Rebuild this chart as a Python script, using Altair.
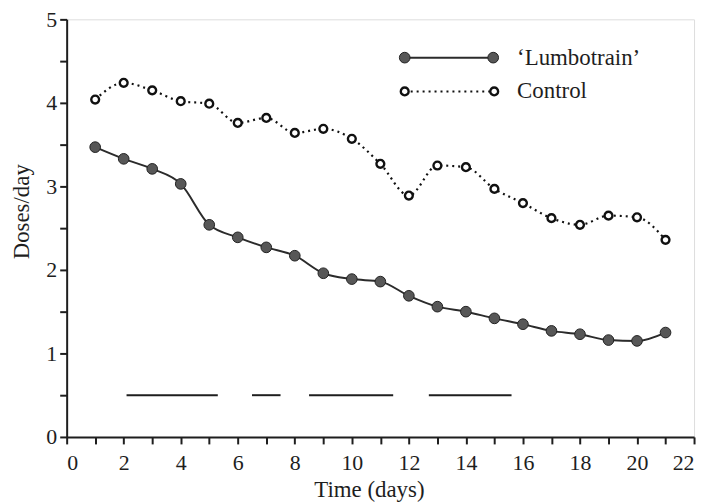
import altair as alt
import pandas as pd

# ---- data ----
days = list(range(1, 22))
lumbotrain = [3.47, 3.33, 3.21, 3.03, 2.54, 2.39, 2.27, 2.17, 1.96, 1.89, 1.86,
              1.69, 1.56, 1.50, 1.42, 1.35, 1.27, 1.23, 1.16, 1.15, 1.25]
control = [4.04, 4.24, 4.15, 4.02, 3.99, 3.76, 3.82, 3.64, 3.69, 3.57, 3.27,
           2.89, 3.25, 3.23, 2.97, 2.80, 2.62, 2.54, 2.65, 2.63, 2.36]
sig_start = [2.1, 6.5, 8.5, 12.7]
sig_end = [5.3, 7.5, 11.45, 15.6]
sig_level = [0.5, 0.5, 0.5, 0.5]
x_ticks = list(range(0, 23))
y_ticks = [i * 0.5 for i in range(11)]
legend_labels = ["\u2018Lumbotrain\u2019", "Control"]

FONT = "Liberation Serif"
INK = "#1e1e1e"

lum_df = pd.DataFrame({"day": days, "doses": lumbotrain})
con_df = pd.DataFrame({"day": days, "doses": control})
sig_df = pd.DataFrame({"start": sig_start, "end": sig_end, "level": sig_level})

xscale = alt.Scale(domain=[0, 22], nice=False, zero=False)
yscale = alt.Scale(domain=[0, 5], nice=False, zero=False)

xaxis = alt.Axis(values=x_ticks, format="d",
                 labelExpr="datum.value % 2 === 0 ? datum.label : ''",
                 title="Time (days)", grid=False, tickSize=7, tickWidth=2,
                 domainWidth=2, domainColor=INK, tickColor=INK, labelColor=INK,
                 labelFont=FONT, labelFontSize=22, labelPadding=9, labelAngle=0,
                 titleFont=FONT, titleFontSize=23, titleFontWeight="normal",
                 titleColor=INK, titlePadding=5, titleX=304, labelOverlap=False)
yaxis = alt.Axis(values=y_ticks, format="~g",
                 labelExpr="datum.value % 1 === 0 ? datum.label : ''",
                 title="Doses/day", grid=False, tickSize=7, tickWidth=2,
                 domainWidth=2, domainColor=INK, tickColor=INK, labelColor=INK,
                 labelFont=FONT, labelFontSize=22, labelPadding=3,
                 titleFont=FONT, titleFontSize=23, titleFontWeight="normal",
                 titleColor=INK, titleX=-45, titleY=193, titleAngle=-90,
                 titleAlign="center", titleBaseline="middle", labelOverlap=False)

def X(field):
    return alt.X(f"{field}:Q", scale=xscale, axis=xaxis)

def Y(field):
    return alt.Y(f"{field}:Q", scale=yscale, axis=yaxis)

lum_line = alt.Chart(lum_df).mark_line(interpolate="monotone", color="#2b2b2b",
                                       strokeWidth=2).encode(x=X("day"), y=Y("doses"))
lum_pts = alt.Chart(lum_df).mark_point(shape="circle", filled=True, size=115,
                                       fill="#575757", stroke="#222222",
                                       strokeWidth=1, opacity=1).encode(x=X("day"), y=Y("doses"))
con_line = alt.Chart(con_df).mark_line(interpolate="monotone", color="#111111",
                                       strokeWidth=2.2, strokeDash=[2, 4]).encode(x=X("day"), y=Y("doses"))
con_pts = alt.Chart(con_df).mark_point(shape="circle", filled=False, size=62,
                                       fill="white", fillOpacity=1, stroke="#111111",
                                       strokeWidth=2.4, opacity=1).encode(x=X("day"), y=Y("doses"))
sig = alt.Chart(sig_df).mark_rule(color=INK, strokeWidth=2).encode(
    x=X("start"), x2="end", y=Y("level"))

# ---- custom legend (pixel positions inside the plot area) ----
leg_df = pd.DataFrame({"label": legend_labels,
                       "x0": [340, 340], "x1": [429, 430],
                       "py": [38.5, 72.5], "tx": [453, 453]})
leg = alt.Chart(leg_df)
nx = lambda f: alt.X(f"{f}:Q", scale=None, axis=None)
ny = alt.Y("py:Q", scale=None, axis=None)
leg_lum_line = leg.transform_filter(alt.datum.label == legend_labels[0]).mark_rule(
    color="#2b2b2b", strokeWidth=2).encode(x=nx("x0"), x2="x1", y=ny)
leg_con_line = leg.transform_filter(alt.datum.label == legend_labels[1]).mark_rule(
    color="#111111", strokeWidth=2, strokeDash=[2, 4]).encode(x=nx("x0"), x2="x1", y=ny)
leg_lum_pts = []
leg_con_pts = []
for f in ["x0", "x1"]:
    leg_lum_pts.append(leg.transform_filter(alt.datum.label == legend_labels[0]).mark_point(
        shape="circle", filled=True, size=115, fill="#575757", stroke="#222222",
        strokeWidth=1, opacity=1).encode(x=nx(f), y=ny))
    leg_con_pts.append(leg.transform_filter(alt.datum.label == legend_labels[1]).mark_point(
        shape="circle", filled=False, size=62, fill="white", fillOpacity=1,
        stroke="#111111", strokeWidth=2.4, opacity=1).encode(x=nx(f), y=ny))
leg_text = leg.mark_text(align="left", baseline="middle", font=FONT, fontSize=23,
                         color=INK).encode(x=nx("tx"), y=ny, text="label:N")

chart = alt.layer(
    sig, con_line, con_pts, lum_line, lum_pts,
    leg_lum_line, leg_con_line, *leg_lum_pts, *leg_con_pts, leg_text
).properties(
    width=631, height=420,
    padding={"left": 59, "top": 10, "right": 8, "bottom": 64},
    autosize=alt.AutoSizeParams(type="none"),
    background="white"
).configure_view(stroke=None).configure(font=FONT)

chart.save("out.html", embed_options={"renderer": "svg", "actions": False})
